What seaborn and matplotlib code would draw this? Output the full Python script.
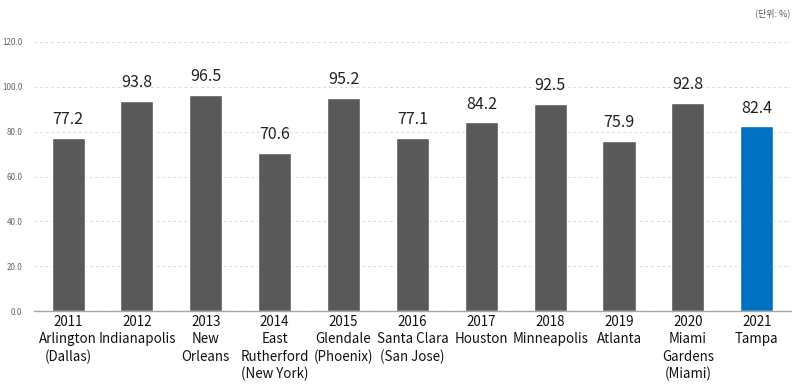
import matplotlib
matplotlib.use('Agg')
import matplotlib.pyplot as plt
import seaborn as sns
import pandas as pd

# 데이터
years = ['2011', '2012', '2013', '2014', '2015', '2016', '2017', '2018', '2019', '2020', '2021']
cities = ['Arlington\n(Dallas)', 'Indianapolis', 'New\nOrleans', 'East\nRutherford\n(New York)',
          'Glendale\n(Phoenix)', 'Santa Clara\n(San Jose)', 'Houston', 'Minneapolis',
          'Atlanta', 'Miami\nGardens\n(Miami)', 'Tampa']
values = [77.2, 93.8, 96.5, 70.6, 95.2, 77.1, 84.2, 92.5, 75.9, 92.8, 82.4]
yticks = [0, 20, 40, 60, 80, 100, 120]

sns.set_theme(style='white')
plt.rcParams['font.family'] = ['Noto Sans CJK KR', 'DejaVu Sans']

df = pd.DataFrame({'label': [f'{y}\n{c}' for y, c in zip(years, cities)], 'value': values})
colors = ['#595959'] * (len(values) - 1) + ['#0070C0']

fig = plt.figure(figsize=(8, 3.88), dpi=100)
ax = fig.add_axes([0.042, 0.198, 0.947, 0.694])

sns.barplot(data=df, x='label', y='value', hue='label', palette=colors,
            legend=False, width=0.48, ax=ax, saturation=1)

for c in ax.containers:
    ax.bar_label(c, fmt='%.1f', padding=7, fontsize=11.5, color='#222222')

ax.set_ylim(0, 120)
ax.set_yticks(yticks)
ax.set_yticklabels([f'{t:.1f}' for t in yticks], fontsize=5.8, color='#666666')
ax.tick_params(axis='y', length=0, pad=8)
ax.tick_params(axis='x', length=0, pad=3, labelsize=9.6, colors='#111111')
for t in ax.get_xticklabels():
    t.set_linespacing(1.28)
ax.set_xlabel('')
ax.set_ylabel('')

ax.grid(axis='y', linestyle=(0, (2.5, 2.5)), color='#dcdcdc', linewidth=0.8)
ax.set_axisbelow(True)
for s in ['top', 'right', 'left']:
    ax.spines[s].set_visible(False)
ax.spines['bottom'].set_color('#a6a6a6')
ax.spines['bottom'].set_linewidth(1)

fig.text(0.988, 0.965, '(단위: %)', ha='right', va='center', fontsize=6.5, color='#555555')

fig.savefig('out.png', dpi=100)
